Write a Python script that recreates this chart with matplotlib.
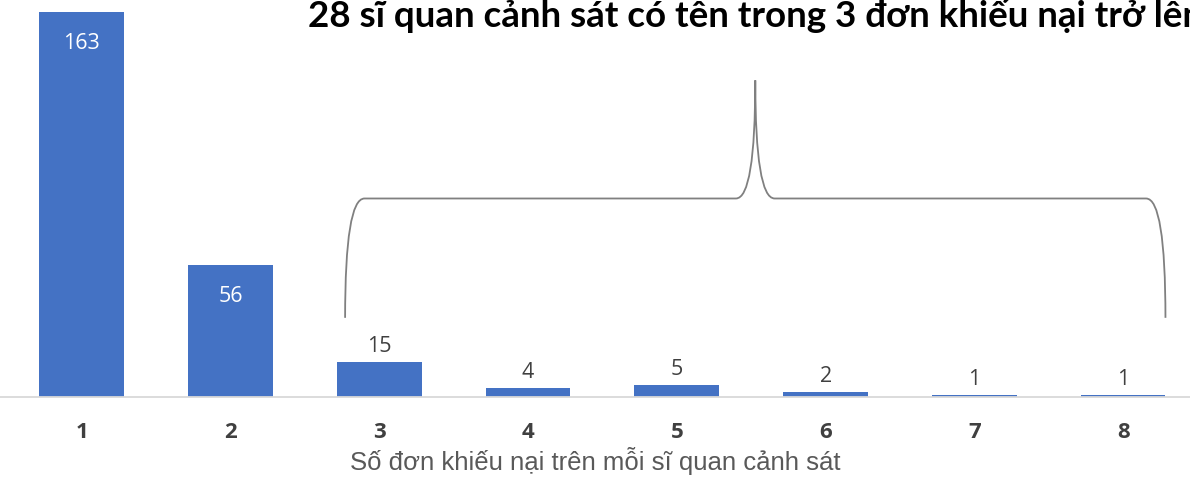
import matplotlib.pyplot as plt
from matplotlib.path import Path
import matplotlib.patches as mpatches

# data
complaints = [1, 2, 3, 4, 5, 6, 7, 8]
officers = [163, 56, 15, 4, 5, 2, 1, 1]
tick_labels = ["1", "2", "3", "4", "5", "6", "7", "8"]
inside_label = [True, True, False, False, False, False, False, False]

title = "28 sĩ quan cảnh sát có tên trong 3 đơn khiếu nại trở lên"
xlabel = "Số đơn khiếu nại trên mỗi sĩ quan cảnh sát"

plt.rcParams['font.family'] = ['Open Sans', 'DejaVu Sans']

fig = plt.figure(figsize=(11.9, 4.78), dpi=100)
ax = fig.add_axes([0, 0.1695, 1, 0.8305])

bars = ax.bar(complaints, officers, width=0.57, color="#4472C4")
ax.set_xlim(0.45, 8.45)
ax.set_ylim(0, 168)

for rect, v, inside in zip(bars, officers, inside_label):
    cx = rect.get_x() + rect.get_width() / 2
    if inside:
        ax.annotate(str(v), (cx, v), xytext=(0, -23), textcoords="offset points",
                    ha="center", va="center", color="white", fontsize=15.5)
    else:
        ax.annotate(str(v), (cx, v), xytext=(0, 11), textcoords="offset points",
                    ha="center", va="center", color="#404040", fontsize=15.5)

# axis styling
for s in ["top", "right", "left"]:
    ax.spines[s].set_visible(False)
ax.spines["bottom"].set_color("#d9d9d9")
ax.spines["bottom"].set_linewidth(1.3)
ax.set_yticks([])
ax.set_xticks(complaints)
ax.set_xticklabels(tick_labels, fontsize=16, fontweight="bold", color="#404040")
ax.tick_params(axis="x", length=0, pad=18)
ax.set_xlabel(xlabel, fontsize=18.5, color="#595959", labelpad=3,
              family=["Liberation Sans", "DejaVu Sans"])

# brace over bars 3..8
xl, xr = 2.77, 8.285
xm = (xl + xr) / 2
dx = 0.13
y0, y1, y2 = 33.5, 84, 134
verts = [
    (xl, y0), (xl, y1), (xl + dx, y1),
    (xm - dx, y1),
    (xm, y1), (xm, y2),
    (xm, y1), (xm + dx, y1),
    (xr - dx, y1),
    (xr, y1), (xr, y0),
]
codes = [Path.MOVETO, Path.CURVE3, Path.CURVE3,
         Path.LINETO,
         Path.CURVE3, Path.CURVE3,
         Path.CURVE3, Path.CURVE3,
         Path.LINETO,
         Path.CURVE3, Path.CURVE3]
brace = mpatches.PathPatch(Path(verts, codes), fill=False, edgecolor="#808080",
                           linewidth=1.3, clip_on=False)
ax.add_patch(brace)

fig.text(308 / 1190, 1 - 27 / 478, title, ha="left", va="baseline",
         fontsize=26.5, fontweight="bold", color="black", family=["Lato", "DejaVu Sans"])

fig.savefig("out.png", dpi=100)
